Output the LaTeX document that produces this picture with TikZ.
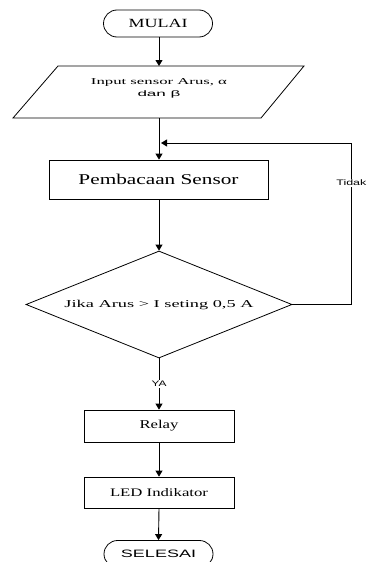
\documentclass[tikz,border=0pt]{standalone}
\usepackage{fontspec}
\usepackage{graphicx}
\setmainfont{Liberation Serif}
\setsansfont{Liberation Sans}
\usetikzlibrary{shapes.geometric,shapes.misc,arrows.meta}
\newcommand{\fitx}[2]{\resizebox{#1}{\height}{#2}}
\begin{document}
\begin{tikzpicture}[x=1pt,y=-1pt, line width=0.8pt,
  term/.style={draw, rounded rectangle, minimum width=109pt, minimum height=27pt, inner sep=0pt},
  proc/.style={draw, rectangle, inner sep=0pt},
  dec/.style={draw, diamond, minimum width=266pt, minimum height=107pt, inner sep=0pt, aspect=2.5},
  arr/.style={-{Triangle[length=6pt,width=7pt]}, line width=0.9pt},
  lbl/.style={font=\sffamily\fontsize{8}{9}\selectfont, fill=white, inner sep=1pt}]
\useasboundingbox (0,0) rectangle (368,562);
\node[term] (mulai) at (158,23.5) {\fontsize{12.5}{14}\selectfont\fitx{59pt}{MULAI}};
\coordinate (iotl) at (58,66);
\coordinate (iotr) at (304,66);
\coordinate (iobr) at (261,118);
\coordinate (iobl) at (13,118);
\draw (iotl) -- (iotr) -- (iobr) -- (iobl) -- cycle;
\coordinate (iotop) at (159,66);
\coordinate (iobot) at (159,118);
\node[align=center, inner sep=0pt] (input) at (159,88.5) {\fontsize{9}{13}\selectfont\fitx{136pt}{Input sensor Arus, α}\\ \sffamily\fontsize{8}{13}\selectfont\fitx{43pt}{dan β}};
\node[proc, minimum width=219pt, minimum height=39pt] (baca) at (158.5,179.5) {\fontsize{15}{18}\selectfont\fitx{160pt}{Pembacaan Sensor}};
\node[dec] (jika) at (159,304.5) {\fontsize{10.5}{12}\selectfont\fitx{189pt}{Jika Arus > I seting 0,5 A}};
\node[proc, minimum width=150pt, minimum height=32pt] (relay) at (159,426) {\fontsize{12}{14}\selectfont\fitx{39pt}{Relay}};
\node[proc, minimum width=150pt, minimum height=31pt] (led) at (159,492.5) {\fontsize{11.5}{14}\selectfont\fitx{98pt}{LED Indikator}};
\node[term] (selesai) at (158.5,554) {\sffamily\fontsize{10.7}{13}\selectfont\fitx{75pt}{SELESAI}};
\coordinate (fb) at (161,143);
\draw[arr] (mulai.south -| iotop) -- (iotop);
\draw[arr] (iobot) -- (iobot |- baca.north);
\draw[arr] (baca.south -| jika.north) -- (jika.north);
\draw[arr] (jika.east) -- ++(59,0) |- node[lbl, pos=0.376]{\fitx{30pt}{Tidak}} (fb);
\draw[arr] (jika.south) -- node[lbl]{\fitx{15pt}{YA}} (relay.north);
\draw[arr] (relay.south) -- (led.north);
\draw[arr] (led.south) -- (selesai.north);
\end{tikzpicture}
\end{document}
